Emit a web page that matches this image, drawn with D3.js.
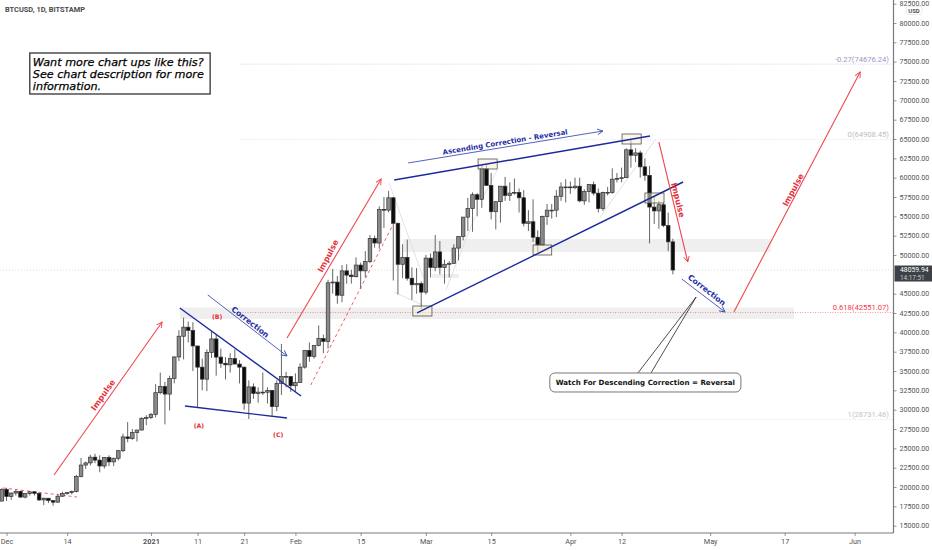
<!DOCTYPE html>
<html>
<head>
<meta charset="utf-8">
<script src="https://cdn.jsdelivr.net/npm/d3@7"></script>
<style>
    body { margin: 0; background: #fff; }
    svg { display: block; }
    text { font-family: Roboto, sans-serif; }
</style>
</head>
<body>
<svg id="chart" width="932" height="550"></svg>
<script>
// Daily candles, first one is 30 Nov 2020
var opens = [18180,19700,18780,19220,19440,18700,19160,19380,19180,18330,18550,18250,18040,18810,19170,19280,19440,21370,22840,23120,23860,23480,22720,23830,23250,23720,24700,26480,26270,27040,27370,28890,28980,29400,32200,33000,32020,34040,36820,39500,40670,40240,38240,35500,33950,37400,39150,36800,36000,35800,36600,35900,35500,30850,32950,32100,32270,32260,32500,30400,33400,34300,34300,33100,33500,35500,37650,36900,38300,39200,38830,46400,46500,44800,47950,47400,47200,48700,47950,49150,52150,51550,55900,55800,57400,54100,48800,49700,47000,46150,46300,45200,49600,48400,50400,48400,48800,48900,50900,52400,54900,56000,57800,57200,61200,59000,55600,56900,58900,57700,58000,58100,57400,54100,54300,52300,51300,55000,55800,55800,57600,58800,58800,58700,58900,57000,58200,59100,58000,56000,58100,58100,59800,59900,60000,63600,62900,63200,61400,60300,56200,55700,56500,53800,51700]
var highs = [19850,19900,19300,19630,19540,19180,19420,19420,19300,18650,18570,18290,19100,19400,19350,19550,21560,23770,23290,24170,24300,24100,23850,24100,23780,24800,26900,28400,27500,27400,29000,29300,29600,33300,34800,33600,34400,36900,40300,41900,41400,41300,38250,36600,37800,40100,39700,37900,36800,37300,37800,36400,35600,33800,33400,32900,34800,32900,32550,33800,38500,34900,34300,34700,36000,37700,38700,38300,40900,39700,46800,48200,47300,48700,48800,48100,49700,49000,50500,52600,52500,56300,57500,58300,57500,54200,51400,52000,48400,48300,46600,50000,50200,52600,51800,49400,49200,51400,52400,54900,57400,58100,58000,61700,61700,60600,56900,58900,60100,59400,59900,58600,58400,55800,57200,53200,55100,56600,56600,58400,59400,59800,59500,60000,60000,58500,59200,59500,58600,58200,58800,61200,60600,61300,63800,64900,63800,63500,62500,61500,57600,57000,56800,55500,52100]
var lows = [18180,18200,18350,18900,18600,18520,18900,18900,18200,17650,17920,17590,18000,18710,19000,19050,19300,21240,22350,22800,23080,21900,22400,22700,22700,23420,24500,25800,26100,25880,27320,28000,28800,29000,32000,28100,29900,33400,36300,36500,38700,35000,30300,32500,32400,36700,34400,35400,33900,34800,35900,33400,30000,28800,31400,30900,31900,30800,29200,29800,31900,32900,32300,32300,33450,35300,36200,36600,38200,37300,37900,45000,43700,43900,46300,46300,47100,45600,47100,48950,50950,50800,53500,55500,46700,44900,47000,46700,44200,45000,43000,44900,47100,47900,47500,46300,47100,48900,49300,51900,53100,53000,55000,56100,59000,54600,53300,54200,57000,57000,57800,55500,53700,53100,51700,50400,51200,53900,54700,54900,57000,56800,57900,58500,56800,56500,56800,57700,55500,55700,57700,57900,59400,59400,60000,61300,62000,60000,59600,51500,54000,53400,53600,50500,47500]
var closes = [19700,18780,19220,19440,18700,19160,19380,19180,18330,18550,18250,18040,18810,19170,19280,19440,21370,22840,23120,23860,23480,22720,23830,23250,23720,24700,26480,26270,27040,27370,28890,28980,29400,32200,33000,32020,34040,36820,39500,40670,40240,38240,35500,33950,37400,39150,36800,36000,35800,36600,35900,35500,30850,32950,32100,32270,32260,32500,30400,33400,34300,34300,33100,33500,35500,37650,36900,38300,39200,38830,46400,46500,44800,47950,47400,47200,48700,47950,49150,52150,51550,55900,55800,57400,54100,48800,49700,47000,46150,46300,45200,49600,48400,50400,48400,48800,48900,50900,52400,54900,56000,57800,57200,61200,59000,55600,56900,58900,57700,58000,58100,57400,54100,54300,52300,51300,55000,55800,55800,57600,58800,58800,58700,58900,57000,58200,59100,58000,56000,58100,58100,59800,59900,60000,63600,62900,63200,61400,60300,56200,55700,56500,53800,51700,48059.94]

// 47500 sits behind the last price tag, so it is left out
var priceTicks = [15000,17500,20000,22500,25000,27500,30000,32500,35000,37500,40000,42500,45000,50000,52500,55000,57500,60000,62500,65000,67500,70000,72500,75000,77500,80000,82500]

// Days counted from 1 Dec 2020
var dateTickDays = [0, 13, 31, 41, 51, 62, 76, 90, 104, 121, 132, 151, 167, 182]
var dateTickLabels = ["Dec", "14", "2021", "11", "21", "Feb", "15", "Mar", "15", "Apr", "12", "May", "17", "Jun"]

var fibPrices = [74676.24, 64908.45, 42551.07, 28731.46]
var fibLabels = ["-0.27(74676.24)", "0(64908.45)", "0.618(42551.07)", "1(28731.46)"]
var fibColors = ["#9a97cc", "#bdbdbd", "#f23645", "#c4c4c4"]
var lastPrice = 48059.94

// Drawings: [day, price, day, price]
var impulseArrows = [[10.2, 21556, 33.4, 41339], [60.2, 39270, 80.4, 59829], [140, 64613, 146.2, 49097], [156.1, 42632, 183.2, 73664]]
var correctionArrows = [[43.2, 44830, 60.2, 36943], [86.2, 61898, 128, 66036], [144.9, 46899, 154.2, 42632]]
var channelLines = [[37.2, 43150, 63.2, 31771], [38.3, 30478, 60.2, 28927], [83.2, 59700, 138.1, 65389], [88.1, 42503, 145.2, 59441]]
var dashedLines = [[-0.75, 19875, 15.1, 18712], [65.3, 33193, 82.9, 53881]]
var ghostLines = [[82.1, 59312, 89.4, 47158], [83.2, 45218, 89.2, 43537], [94.3, 45476, 100.5, 54916], [105.3, 60993, 102, 57114], [127.4, 54916, 139.2, 64872]]
var pivotBoxes = [[87.2, 43408, 91.3, 42115], [101.2, 62415, 105.3, 61122], [113, 51295, 117, 50002], [132.1, 65648, 136.2, 64355], [137, 58019, 141.1, 56726]]
var zones = [[37.2, 43214, 169, 41727], [85.1, 52071, 164, 50390], [91.3, 47546, 97.1, 47028]]

var impulseLabels = [[20.7, 31900, -55], [69, 49873, -62], [144.1, 57114, 76], [168.8, 58407, -62]]
var correctionLabels = [["Correction", 52.3, 41339, 38], ["Correction", 150.3, 45477, 38], ["Ascending Correction - Reversal", 107, 64613, -9.3]]
var waveLabels = [["(A)", 41.3, 27892], ["(B)", 45.2, 41986], ["(C)", 58.3, 26728]]

var noteLines = ["Want more chart ups like this?", "See chart description for more", "information."]
var calloutText = "Watch For Descending Correction = Reversal"

var width = 932, height = 550
var axisX = 893.5, axisY = 533
var svg = d3.select("#chart")

var t0 = Date.UTC(2020, 11, 1)
function at(day) { return new Date(t0 + day * 864e5) }

var x = d3.scaleUtc()
    .domain([at(0), at(182)])
    .range([6.5, 854.6])
var y = d3.scaleLinear()
    .domain([15000, 80000])
    .range([525.7, 23])

function px(day) { return x(at(day)) }

function arrowDefs(id, color) {
    svg.append("defs").append("marker")
        .attr("id", id)
        .attr("viewBox", "0 0 10 10")
        .attr("refX", 9).attr("refY", 5)
        .attr("markerWidth", 7).attr("markerHeight", 7)
        .attr("markerUnits", "userSpaceOnUse")
        .attr("orient", "auto")
        .append("path")
        .attr("d", "M1,1 L9,5 L1,9")
        .attr("fill", "none")
        .attr("stroke", color)
        .attr("stroke-width", 1.3)
}
arrowDefs("redHead", "#f0474f")
arrowDefs("blueHead", "#3f51b5")

function drawLines(data, stroke, widthPx, dash, marker) {
    svg.append("g").selectAll("line").data(data).join("line")
        .attr("x1", d => px(d[0])).attr("y1", d => y(d[1]))
        .attr("x2", d => px(d[2])).attr("y2", d => y(d[3]))
        .attr("stroke", stroke)
        .attr("stroke-width", widthPx)
        .attr("stroke-dasharray", dash)
        .attr("marker-end", marker)
}

// Zones go under the candles
svg.append("g").selectAll("rect").data(zones).join("rect")
    .attr("x", d => px(d[0])).attr("y", d => y(d[1]))
    .attr("width", d => px(d[2]) - px(d[0])).attr("height", d => y(d[3]) - y(d[1]))
    .attr("fill", "#efefef")

// Fib levels and last price
svg.append("g").selectAll("line").data(fibPrices).join("line")
    .attr("x1", px(50.1)).attr("x2", axisX)
    .attr("y1", d => y(d)).attr("y2", d => y(d))
    .attr("stroke", (d, i) => fibColors[i])
    .attr("stroke-width", 0.7)
    .attr("stroke-dasharray", "1,1.5")
    .attr("opacity", (d, i) => i == 2 ? 0.8 : 0.6)
svg.append("line")
    .attr("x1", 0).attr("x2", axisX)
    .attr("y1", y(lastPrice)).attr("y2", y(lastPrice))
    .attr("stroke", "#cfcfcf")
    .attr("stroke-width", 0.7)
    .attr("stroke-dasharray", "1,2")
svg.append("g").selectAll("text").data(fibLabels).join("text")
    .attr("x", 889)
    .attr("y", (d, i) => y(fibPrices[i]) - 2.5)
    .attr("text-anchor", "end")
    .attr("fill", (d, i) => fibColors[i])
    .attr("font-size", 7.6)
    .text(d => d)

drawLines(ghostLines, "#d9d8ee", 0.8)
drawLines(dashedLines, "#f0474f", 0.9, "3,3")

// Candles
var candles = opens.map(function(o, i) {
    return { day: i - 1, o: o, h: highs[i], l: lows[i], c: closes[i] }
})
var candleG = svg.append("g").selectAll("g").data(candles).join("g")
candleG.append("line")
    .attr("x1", d => px(d.day)).attr("x2", d => px(d.day))
    .attr("y1", d => y(d.h)).attr("y2", d => y(d.l))
    .attr("stroke", "#666")
    .attr("stroke-width", 1)
candleG.append("rect")
    .attr("x", d => px(d.day) - 1.8)
    .attr("width", 3.6)
    .attr("y", d => y(Math.max(d.o, d.c)))
    .attr("height", d => Math.max(0.8, Math.abs(y(d.o) - y(d.c))))
    .attr("fill", d => d.c >= d.o ? "#8a8a8a" : "#0c0c0c")
    .attr("stroke", "#333")
    .attr("stroke-width", 0.7)

// Pivot boxes
svg.append("g").selectAll("rect").data(pivotBoxes).join("rect")
    .attr("x", d => px(d[0])).attr("y", d => y(d[1]))
    .attr("width", d => px(d[2]) - px(d[0])).attr("height", d => y(d[3]) - y(d[1]))
    .attr("fill", "#f7efd8")
    .attr("fill-opacity", 0.55)
    .attr("stroke", "#55534c")
    .attr("stroke-width", 0.8)

drawLines(channelLines, "#1a2a9c", 1.4)
drawLines(impulseArrows, "#f0474f", 1.1, null, "url(#redHead)")
drawLines(correctionArrows, "#3f51b5", 0.9, null, "url(#blueHead)")

// Rotated labels
svg.append("g").selectAll("text").data(impulseLabels).join("text")
    .attr("transform", d => "translate(" + px(d[0]) + "," + y(d[1]) + ") rotate(" + d[2] + ")")
    .attr("text-anchor", "middle")
    .attr("dy", "0.35em")
    .style("font-family", "DejaVu Sans")
    .attr("font-weight", "bold")
    .attr("font-size", 8)
    .attr("fill", "#e5303c")
    .text("Impulse")
svg.append("g").selectAll("text").data(correctionLabels).join("text")
    .attr("transform", d => "translate(" + px(d[1]) + "," + y(d[2]) + ") rotate(" + d[3] + ")")
    .attr("text-anchor", "middle")
    .attr("dy", "0.35em")
    .style("font-family", "DejaVu Sans")
    .attr("font-weight", "bold")
    .attr("font-size", d => d[0].length > 10 ? 7 : 7.7)
    .attr("fill", "#1f2fa3")
    .text(d => d[0])
svg.append("g").selectAll("text").data(waveLabels).join("text")
    .attr("x", d => px(d[1])).attr("y", d => y(d[2]))
    .attr("text-anchor", "middle")
    .attr("dy", "0.35em")
    .style("font-family", "DejaVu Sans")
    .attr("font-weight", "bold")
    .attr("font-size", 6.2)
    .attr("fill", "#e5303c")
    .text(d => d[0])

// Note box, top left
svg.append("rect")
    .attr("x", px(5)).attr("y", y(76121))
    .attr("width", px(43.7) - px(5)).attr("height", y(70820) - y(76121))
    .attr("fill", "#fff")
    .attr("stroke", "#333")
    .attr("stroke-width", 1.3)
svg.append("g").selectAll("text").data(noteLines).join("text")
    .attr("x", px(5) + 3)
    .attr("y", (d, i) => y(76121) + 13.5 + i * 12)
    .style("font-family", "DejaVu Sans")
    .attr("font-style", "italic")
    .attr("font-size", 11.2)
    .attr("fill", "#000")
    .attr("stroke", "#000")
    .attr("stroke-width", 0.25)
    .text(d => d)

// Callout with its pointer
svg.append("path")
    .attr("d", "M" + px(135.5) + "," + y(34745) + " L" + px(148) + "," + y(44572) + " L" + px(138.3) + "," + y(34745))
    .attr("fill", "none")
    .attr("stroke", "#222")
    .attr("stroke-width", 0.8)
svg.append("rect")
    .attr("x", px(116.6)).attr("y", y(34745))
    .attr("width", px(157.6) - px(116.6)).attr("height", y(32288) - y(34745))
    .attr("rx", 5)
    .attr("fill", "#fff")
    .attr("stroke", "#777")
    .attr("stroke-width", 1)
svg.append("text")
    .attr("x", (px(116.6) + px(157.6)) / 2)
    .attr("y", (y(34745) + y(32288)) / 2)
    .attr("dy", "0.35em")
    .attr("text-anchor", "middle")
    .style("font-family", "DejaVu Sans")
    .attr("font-weight", "bold")
    .attr("font-size", 7.1)
    .attr("fill", "#111")
    .text(calloutText)

// Axes
var yAxis = d3.axisRight(y).tickValues(priceTicks).tickSize(3).tickPadding(3).tickFormat(d3.format(".2f"))
var priceG = svg.append("g")
    .attr("transform", "translate(" + axisX + ",0)")
    .call(yAxis)
priceG.select(".domain").remove()
svg.append("line")
    .attr("x1", axisX).attr("x2", axisX)
    .attr("y1", 0).attr("y2", axisY)
    .attr("stroke", "#777a82")
    .attr("stroke-width", 1.2)
priceG.selectAll("text").attr("font-size", 7.1).attr("fill", "#555")
priceG.selectAll("line").attr("stroke", "#777a82").attr("stroke-width", 0.8)

var xAxis = d3.axisBottom(x)
    .tickValues(dateTickDays.map(at))
    .tickSize(3)
    .tickPadding(3)
    .tickFormat((d, i) => dateTickLabels[i])
var dateG = svg.append("g")
    .attr("transform", "translate(0," + axisY + ")")
    .call(xAxis)
dateG.select(".domain").remove()
svg.append("line")
    .attr("x1", 0).attr("x2", axisX)
    .attr("y1", axisY).attr("y2", axisY)
    .attr("stroke", "#777a82")
    .attr("stroke-width", 1.2)
dateG.selectAll("text")
    .attr("font-size", 7.3)
    .attr("fill", "#555")
    .attr("font-weight", (d, i) => dateTickLabels[i] == "2021" ? "bold" : "normal")
dateG.selectAll("line").attr("stroke", "#777a82").attr("stroke-width", 0.8)

// USD badge and last price tag
svg.append("rect")
    .attr("x", 906).attr("y", 6.5).attr("width", 16).attr("height", 8).attr("rx", 2)
    .attr("fill", "#fff").attr("stroke", "#e4e4e4").attr("stroke-width", 0.7)
svg.append("text")
    .attr("x", 914).attr("y", 13)
    .attr("text-anchor", "middle")
    .attr("font-size", 6)
    .attr("font-weight", "bold")
    .attr("fill", "#555")
    .text("USD")
svg.append("rect")
    .attr("x", axisX + 1).attr("y", y(lastPrice) - 4.5)
    .attr("width", width - axisX - 1).attr("height", 16)
    .attr("fill", "#3d4046")
svg.append("text")
    .attr("x", 900).attr("y", y(lastPrice) + 2.3)
    .attr("font-size", 6.8)
    .attr("fill", "#fff")
    .text(d3.format(".2f")(lastPrice))
svg.append("text")
    .attr("x", 900).attr("y", y(lastPrice) + 10.3)
    .attr("font-size", 6.4)
    .attr("fill", "#c8c8c8")
    .text("14:17:51")

// Title
svg.append("text")
    .attr("x", 5).attr("y", 12)
    .attr("font-size", 7.4)
    .attr("font-weight", "bold")
    .attr("fill", "#4a4a4a")
    .text("BTCUSD, 1D, BITSTAMP")
</script>
</body>
</html>
